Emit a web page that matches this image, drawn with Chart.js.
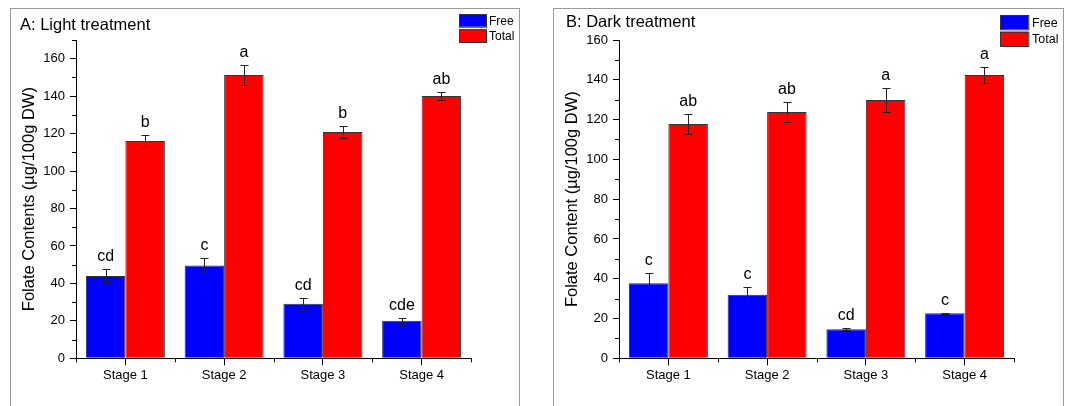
<!DOCTYPE html>
<html>
<head>
<meta charset="utf-8">
<script src="https://cdn.jsdelivr.net/npm/chart.js@4.4.0/dist/chart.umd.min.js"></script>
<style>
  body { margin: 0; background: #fff; width: 1068px; height: 406px; overflow: hidden; position: relative; }
  .panel { position: absolute; top: 8px; height: 400px; border: 1px solid #9a9a9a; background: #fff; }
  #panelA { left: 10px; width: 508px; }
  #panelB { left: 553px; width: 509px; }
  canvas { position: absolute; left: 0; top: 0; }
</style>
</head>
<body>
<div class="panel" id="panelA"><canvas id="chartA" width="508" height="398"></canvas></div>
<div class="panel" id="panelB"><canvas id="chartB" width="509" height="398"></canvas></div>
<script>
// data
const stages = ["Stage 1", "Stage 2", "Stage 3", "Stage 4"];

const lightFree = [44, 49.6, 29.1, 20];
const lightFreeErr = [3.5, 4.2, 3.3, 1.7];
const lightFreeLetters = ["cd", "c", "cd", "cde"];
const lightTotal = [116, 151.3, 120.9, 140.1];
const lightTotalErr = [3, 5.4, 3.2, 2.3];
const lightTotalLetters = ["b", "a", "b", "ab"];

const darkFree = [37.7, 32, 14.6, 22.6];
const darkFreeErr = [5, 4, 0.5, 0.3];
const darkFreeLetters = ["c", "c", "cd", "c"];
const darkTotal = [117.8, 123.8, 129.9, 142.4];
const darkTotalErr = [5, 5.1, 5.9, 4];
const darkTotalLetters = ["ab", "ab", "a", "a"];

const FONT = '"Liberation Sans", Arial, sans-serif';

// error bars, letters, minor ticks, title and legend
const extras = {
  id: 'extras',
  afterDatasetsDraw(chart, args, opts) {
    const ctx = chart.ctx;
    const y = chart.scales.y, x = chart.scales.x;
    const area = chart.chartArea;
    ctx.save();
    chart.data.datasets.forEach((ds, i) => {
      const meta = chart.getDatasetMeta(i);
      meta.data.forEach((bar, j) => {
        const v = ds.data[j], e = ds.errors[j];
        const top = Math.round(y.getPixelForValue(v + e)) + 0.5;
        const bot = Math.round(y.getPixelForValue(v - e)) + 0.5;
        const bx = Math.round(bar.x) + 0.5;
        ctx.strokeStyle = '#222';
        ctx.lineWidth = 1;
        ctx.beginPath();
        ctx.moveTo(bx, top); ctx.lineTo(bx, bot);
        ctx.moveTo(bx - 4, top); ctx.lineTo(bx + 4, top);
        ctx.moveTo(bx - 4, bot); ctx.lineTo(bx + 4, bot);
        ctx.stroke();
        ctx.fillStyle = '#000';
        ctx.font = '16px ' + FONT;
        ctx.textAlign = 'center';
        ctx.textBaseline = 'alphabetic';
        ctx.fillText(ds.letters[j], bar.x, top - 9);
      });
    });

    // minor ticks
    ctx.strokeStyle = '#000';
    ctx.beginPath();
    for (let v = 10; v <= y.max; v += 20) {
      const py = Math.round(y.getPixelForValue(v)) + 0.5;
      ctx.moveTo(area.left - 4, py); ctx.lineTo(area.left, py);
    }
    for (let k = 0; k <= stages.length; k++) {
      const px = Math.round(x.getPixelForValue(k - 0.5)) + 0.5;
      ctx.moveTo(px, area.bottom); ctx.lineTo(px, area.bottom + 4);
    }
    ctx.stroke();

    // panel title
    ctx.fillStyle = '#000';
    ctx.font = '16.5px ' + FONT;
    ctx.textAlign = 'left';
    ctx.textBaseline = 'alphabetic';
    ctx.fillText(opts.title, opts.titleX, opts.titleY);

    // legend
    const lg = opts.legend;
    ctx.font = lg.size + 'px ' + FONT;
    ctx.textBaseline = 'middle';
    chart.data.datasets.forEach((ds, i) => {
      const by = lg.y + i * lg.step;
      ctx.fillStyle = ds.backgroundColor;
      ctx.fillRect(lg.x, by, lg.w, lg.h);
      ctx.strokeStyle = '#333';
      ctx.strokeRect(lg.x + 0.5, by + 0.5, lg.w, lg.h);
      ctx.fillStyle = '#000';
      ctx.fillText(ds.label, lg.textX, by + lg.h / 2 + 1);
    });
    ctx.restore();
  }
};

function makeChart(id, free, freeErr, freeLetters, total, totalErr, totalLetters, yMax, yTitle, extraOpts, rightPad) {
  return new Chart(document.getElementById(id), {
    type: 'bar',
    data: {
      labels: stages,
      datasets: [
        { label: 'Free', data: free, errors: freeErr, letters: freeLetters,
          backgroundColor: '#0000ff', borderColor: '#333', borderWidth: 1 },
        { label: 'Total', data: total, errors: totalErr, letters: totalLetters,
          backgroundColor: '#ff0000', borderColor: '#333', borderWidth: 1 }
      ]
    },
    options: {
      responsive: false,
      animation: false,
      devicePixelRatio: 1,
      categoryPercentage: 0.8,
      barPercentage: 1.0,
      layout: { padding: { top: 31, left: 0, right: rightPad, bottom: 0 } },
      plugins: {
        legend: { display: false },
        tooltip: { enabled: false },
        extras: extraOpts
      },
      scales: {
        x: {
          afterFit(s) { s.height = 48.7; },
          border: { color: '#000', width: 1 },
          grid: { drawOnChartArea: false, offset: false, tickLength: 7, color: '#000' },
          ticks: { padding: 2, color: '#000', font: { family: FONT, size: 13 } }
        },
        y: {
          min: 0,
          max: yMax,
          afterFit(s) { s.width = 65; },
          border: { color: '#000', width: 1 },
          grid: {
            drawOnChartArea: false,
            tickLength: 6,
            tickColor: c => (c.tick && c.tick.value % 20 === 0) ? '#000' : 'rgba(0,0,0,0)'
          },
          ticks: {
            stepSize: 10,
            autoSkip: false,
            padding: 5,
            color: '#000',
            font: { family: FONT, size: 13 },
            callback: v => (v % 20 === 0 ? v : '')
          },
          title: {
            display: true,
            text: yTitle,
            color: '#000',
            font: { family: FONT, size: 16.5 },
            padding: { top: 9, bottom: 0 }
          }
        }
      }
    },
    plugins: [extras]
  });
}

makeChart('chartA', lightFree, lightFreeErr, lightFreeLetters, lightTotal, lightTotalErr, lightTotalLetters,
  170, 'Folate Contents (\u00b5g/100g DW)',
  { title: 'A: Light treatment', titleX: 9, titleY: 21,
    legend: { x: 448, y: 5, w: 27, h: 12.7, step: 15.3, textX: 478, size: 12 } }, 48);

makeChart('chartB', darkFree, darkFreeErr, darkFreeLetters, darkTotal, darkTotalErr, darkTotalLetters,
  160, 'Folate Content (\u00b5g/100g DW)',
  { title: 'B: Dark treatment', titleX: 12, titleY: 18.3,
    legend: { x: 446, y: 6, w: 28.3, h: 14.3, step: 16.7, textX: 478, size: 12.5 } }, 49);
</script>
</body>
</html>
